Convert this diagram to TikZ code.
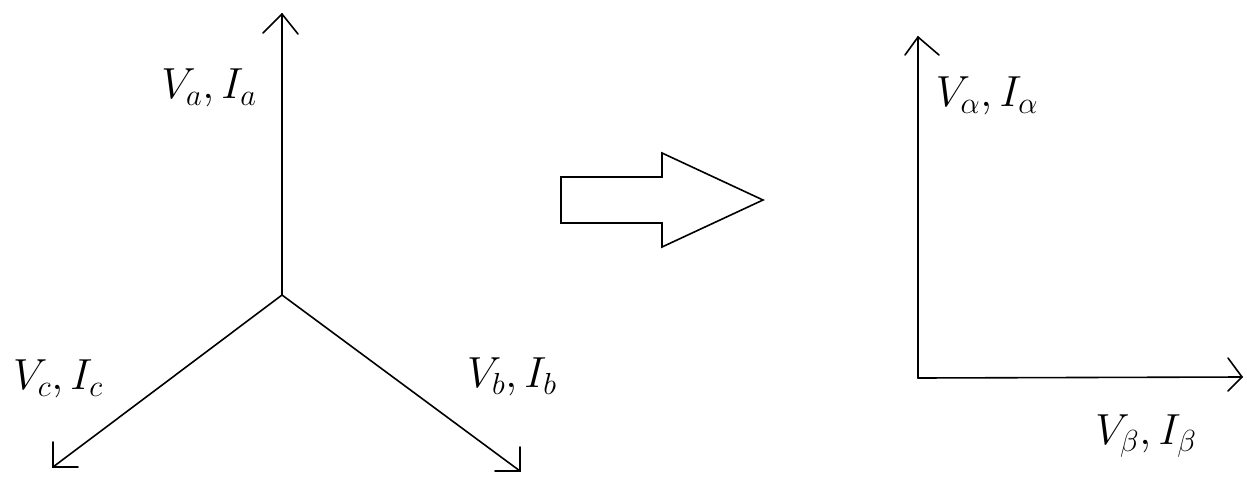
\RequirePackage{fix-cm}
\documentclass[tikz,border=0pt]{standalone}
\newcommand{\mylbl}[1]{\scalebox{1.5}{$#1$}}
\begin{document}
\begin{tikzpicture}[x=1pt,y=-1pt,
  ln/.style={line width=1.6pt,black,line cap=round,line join=miter},
  lbl/.style={inner sep=0pt,font=\fontsize{29}{32}\selectfont}]
\useasboundingbox (0,0) rectangle (1247,477);
% three-phase star
\coordinate (O) at (282,295);
\coordinate (A) at (282,14);
\coordinate (C) at (53,467);
\coordinate (B) at (520,471);
\draw[ln] (O) -- (A);
\draw[ln] (263,33) -- (A) -- (298,34);
\draw[ln] (O) -- (C);
\draw[ln] (53,442) -- (C) -- (78,467);
\draw[ln] (O) -- (B);
\draw[ln] (520,447) -- (B) -- (495,471);
\node[lbl] (la) at (209,88) {\mylbl{V_a, I_a}};
\node[lbl] (lc) at (58,379) {\mylbl{V_c, I_c}};
\node[lbl] (lb) at (512,377) {\mylbl{V_b, I_b}};
% block arrow
\draw[ln,line join=miter] (561,177) -- (662,177) -- (662,153) -- (763,200) -- (662,247) -- (662,223) -- (561,223) -- cycle;
% alpha-beta axes
\coordinate (O2) at (918,378);
\coordinate (AL) at (918,37);
\coordinate (BE) at (1242,377);
\draw[ln] (O2) -- (AL);
\draw[ln] (905,55) -- (AL) -- (939,55);
\draw[ln] (O2) -- (BE);
\draw[ln] (1228,358) -- (BE) -- (1228,391);
\node[lbl] (lal) at (987,96) {\mylbl{V_\alpha, I_\alpha}};
\node[lbl] (lbe) at (1146,436) {\mylbl{V_\beta, I_\beta}};
\end{tikzpicture}
\end{document}
